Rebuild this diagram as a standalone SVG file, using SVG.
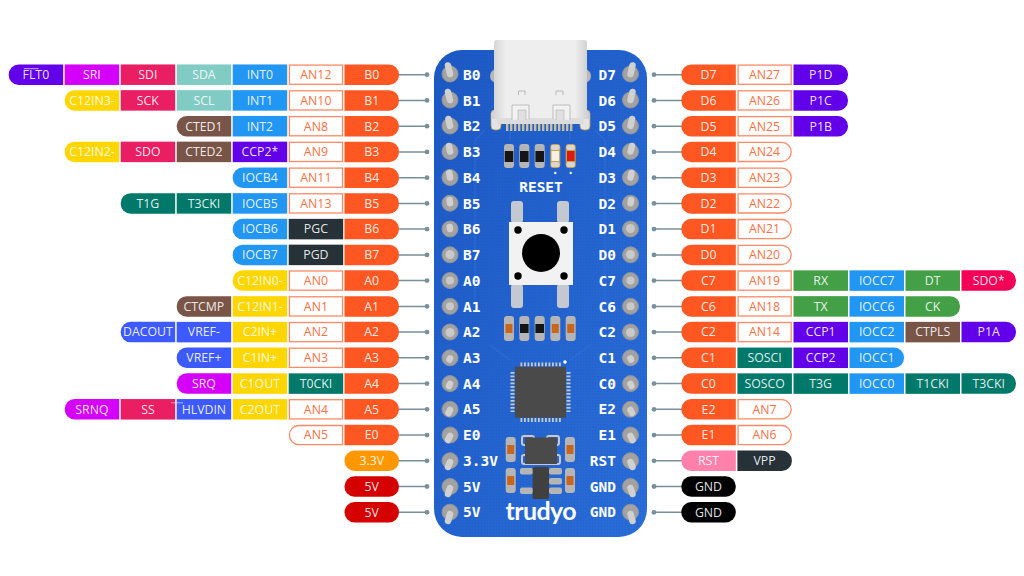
<svg xmlns="http://www.w3.org/2000/svg" width="1024" height="576" viewBox="0 0 1024 576">
<style>
text{font-family:"Open Sans","Noto Sans",sans-serif;font-size:12.3px;fill:#fff;fill-opacity:.9;text-anchor:middle}
.or{fill:#ff5722}.pk{fill:#e91e63}.dp{fill:#6200ea}.mg{fill:#d500f9}.tl{fill:#80cbc4}.bl{fill:#2196f3}.ye{fill:#ffd600}.br{fill:#795548}.dk{fill:#263238}.te{fill:#00796b}.in{fill:#3d5afe}.gr{fill:#43a047}.ho{fill:#f50057}.rs{fill:#ff80ab}.am{fill:#ff9800}.re{fill:#d50000}.bk{fill:#000}
.o{fill:#fff;stroke:#ff8a65;stroke-width:1.3}
text.a{fill:#ff7043;fill-opacity:1}
.w{stroke:#78909c;stroke-width:1.5;fill:none}
.d{fill:#78909c}
.ring{fill:#a2a2a2;stroke:#8a93a0;stroke-width:1}.inner{fill:#c9c9c9}.stem{stroke:#d0d0d0;stroke-width:6.5;stroke-linecap:round}
text.s{font-family:"DejaVu Sans Mono",monospace;font-weight:700;font-size:14.5px;fill:#fff;fill-opacity:1;text-anchor:start}
text.e{text-anchor:end}
.cap{fill:#b5b5b5}.rk{fill:#151515}.ro{fill:#c8661d}
</style>
<defs>
<linearGradient id="bg" x1="0" y1="0" x2="1" y2="1"><stop offset="0" stop-color="#1c58c4"/><stop offset="1" stop-color="#2a6dd8"/></linearGradient>
<linearGradient id="usb" x1="0" y1="0" x2="1" y2="0"><stop offset="0" stop-color="#cfcfcf"/><stop offset=".15" stop-color="#eeeeee"/><stop offset=".85" stop-color="#eeeeee"/><stop offset="1" stop-color="#cacaca"/></linearGradient>
<pattern id="dots" width="3" height="3" patternUnits="userSpaceOnUse"><circle cx="1.5" cy="1.5" r=".5" fill="#164aa8" fill-opacity=".35"/></pattern>
<rect id="sq" y="-10.25" width="54.5" height="20.5"/>
<path id="rl" d="M54.5-10.25V10.25H10A10 10 0 0 1 0 .25V-.25A10 10 0 0 1 10-10.25Z"/>
<path id="rr" d="M0-10.25V10.25H44.5A10 10 0 0 0 54.5 .25V-.25A10 10 0 0 0 44.5-10.25Z"/>
<rect id="pl" y="-10.25" width="54.5" height="20.5" rx="10"/>
<rect id="osq" x=".7" y="-9.6" width="53.1" height="19.2"/>
<path id="orl" d="M53.8-9.6V9.6H10A9.5 9.5 0 0 1 .7 0A9.5 9.5 0 0 1 10-9.6Z"/>
<path id="orr" d="M.7-9.6V9.6H44.5A9.5 9.5 0 0 0 53.8 0A9.5 9.5 0 0 0 44.5-9.6Z"/>
</defs>
<rect width="1024" height="576" fill="#fff"/>

<g id="connectors">
<path class="w" d="M399 74.7H427M399 100.4H427M399 126.2H427M399 151.9H427M399 177.7H427M399 203.4H427M399 229.1H427M399 254.9H427M399 280.6H427M399 306.4H427M399 332.1H427M399 357.8H427M399 383.6H427M399 409.3H427M399 435.1H427M399 460.8H427M399 486.5H427M399 512.3H427"/>
<path class="w" d="M654 74.7H682M654 100.4H682M654 126.2H682M654 151.9H682M654 177.7H682M654 203.4H682M654 229.1H682M654 254.9H682M654 280.6H682M654 306.4H682M654 332.1H682M654 357.8H682M654 383.6H682M654 409.3H682M654 435.1H682M654 460.8H682M654 486.5H682M654 512.3H682"/>
<g class="d">
<circle cx="427" cy="74.7" r="2.4"/><circle cx="427" cy="100.4" r="2.4"/><circle cx="427" cy="126.2" r="2.4"/><circle cx="427" cy="151.9" r="2.4"/><circle cx="427" cy="177.7" r="2.4"/><circle cx="427" cy="203.4" r="2.4"/><circle cx="427" cy="229.1" r="2.4"/><circle cx="427" cy="254.9" r="2.4"/><circle cx="427" cy="280.6" r="2.4"/><circle cx="427" cy="306.4" r="2.4"/><circle cx="427" cy="332.1" r="2.4"/><circle cx="427" cy="357.8" r="2.4"/><circle cx="427" cy="383.6" r="2.4"/><circle cx="427" cy="409.3" r="2.4"/><circle cx="427" cy="435.1" r="2.4"/><circle cx="427" cy="460.8" r="2.4"/><circle cx="427" cy="486.5" r="2.4"/><circle cx="427" cy="512.3" r="2.4"/>
<circle cx="654" cy="74.7" r="2.4"/><circle cx="654" cy="100.4" r="2.4"/><circle cx="654" cy="126.2" r="2.4"/><circle cx="654" cy="151.9" r="2.4"/><circle cx="654" cy="177.7" r="2.4"/><circle cx="654" cy="203.4" r="2.4"/><circle cx="654" cy="229.1" r="2.4"/><circle cx="654" cy="254.9" r="2.4"/><circle cx="654" cy="280.6" r="2.4"/><circle cx="654" cy="306.4" r="2.4"/><circle cx="654" cy="332.1" r="2.4"/><circle cx="654" cy="357.8" r="2.4"/><circle cx="654" cy="383.6" r="2.4"/><circle cx="654" cy="409.3" r="2.4"/><circle cx="654" cy="435.1" r="2.4"/><circle cx="654" cy="460.8" r="2.4"/><circle cx="654" cy="486.5" r="2.4"/><circle cx="654" cy="512.3" r="2.4"/>
</g>
</g>

<g id="board">
<rect x="434" y="50" width="213" height="487" rx="28" fill="url(#bg)"/>
<rect x="434" y="50" width="213" height="487" rx="28" fill="url(#dots)"/>
<g fill="none" stroke="#3a78de" stroke-width=".8" opacity=".7">
<path d="M485 130L475 140V300M595 130L605 140V300M490 345L510 360M590 345L570 360M510 130V140M570 130V140"/>
</g>
</g>

<g id="silkscreen">
<text class="s" x="463" y="79.8">B0</text><text class="s" x="463" y="105.5">B1</text><text class="s" x="463" y="131.3">B2</text><text class="s" x="463" y="157">B3</text><text class="s" x="463" y="182.8">B4</text><text class="s" x="463" y="208.5">B5</text><text class="s" x="463" y="234.2">B6</text><text class="s" x="463" y="260">B7</text><text class="s" x="463" y="285.7">A0</text><text class="s" x="463" y="311.5">A1</text><text class="s" x="463" y="337.2">A2</text><text class="s" x="463" y="362.9">A3</text><text class="s" x="463" y="388.7">A4</text><text class="s" x="463" y="414.4">A5</text><text class="s" x="463" y="440.2">E0</text><text class="s" x="463" y="465.9">3.3V</text><text class="s" x="463" y="491.6">5V</text><text class="s" x="463" y="517.4">5V</text>
<text class="s e" x="616" y="79.8">D7</text><text class="s e" x="616" y="105.5">D6</text><text class="s e" x="616" y="131.3">D5</text><text class="s e" x="616" y="157">D4</text><text class="s e" x="616" y="182.8">D3</text><text class="s e" x="616" y="208.5">D2</text><text class="s e" x="616" y="234.2">D1</text><text class="s e" x="616" y="260">D0</text><text class="s e" x="616" y="285.7">C7</text><text class="s e" x="616" y="311.5">C6</text><text class="s e" x="616" y="337.2">C2</text><text class="s e" x="616" y="362.9">C1</text><text class="s e" x="616" y="388.7">C0</text><text class="s e" x="616" y="414.4">E2</text><text class="s e" x="616" y="440.2">E1</text><text class="s e" x="616" y="465.9">RST</text><text class="s e" x="616" y="491.6">GND</text><text class="s e" x="616" y="517.4">GND</text>
<text class="s" x="541" y="191.5" style="text-anchor:middle">RESET</text>
<text x="541" y="520" style="font-family:Lato,sans-serif;font-weight:700;font-size:25px;fill-opacity:1" textLength="71" lengthAdjust="spacing">trudyo</text>
</g>

<g id="pins-left">
<g id="pl0"><circle class="ring" cx="450" cy="74" r="8"/><line class="stem" x1="450" y1="74" x2="448" y2="65.5"/></g>
<g id="pl1"><circle class="ring" cx="450" cy="100" r="8"/><line class="stem" x1="450" y1="100" x2="448" y2="92"/></g>
<g id="pl2"><circle class="ring" cx="450" cy="126" r="8"/><line class="stem" x1="450" y1="126" x2="448.5" y2="119"/></g>
<g id="pl3"><circle class="ring" cx="450" cy="151.5" r="8"/><line class="stem" x1="450" y1="151.5" x2="449" y2="146"/></g>
<g id="pl4"><circle class="ring" cx="450" cy="177.5" r="8"/><line class="stem" x1="450" y1="177.5" x2="449.3" y2="173"/></g>
<g id="pl5"><circle class="ring" cx="450" cy="203.2" r="8"/><line class="stem" x1="450" y1="203.2" x2="449.6" y2="200"/></g>
<g id="pl6"><circle class="ring" cx="450" cy="229" r="8"/><line class="stem" x1="450" y1="229" x2="449.8" y2="227"/></g>
<g id="pl7"><circle class="ring" cx="450" cy="254.8" r="8"/><circle class="inner" cx="450" cy="254.5" r="4.5"/></g>
<g id="pl8"><circle class="ring" cx="450" cy="280.5" r="8"/><circle class="inner" cx="450" cy="280.5" r="4"/></g>
<g id="pl9"><circle class="ring" cx="450" cy="306.3" r="8"/><circle class="inner" cx="450" cy="306.3" r="4"/></g>
<g id="pl10"><circle class="ring" cx="450" cy="332" r="8"/><circle class="inner" cx="450" cy="332.5" r="4.5"/></g>
<g id="pl11"><circle class="ring" cx="450" cy="357.8" r="8"/><line class="stem" x1="450" y1="358.5" x2="449.5" y2="359.5"/></g>
<g id="pl12"><circle class="ring" cx="450" cy="383.6" r="8"/><line class="stem" x1="450" y1="384" x2="449" y2="386"/></g>
<g id="pl13"><circle class="ring" cx="450" cy="409.3" r="8"/><line class="stem" x1="450" y1="410" x2="448.5" y2="413"/></g>
<g id="pl14"><circle class="ring" cx="450" cy="435" r="8"/><line class="stem" x1="450" y1="436" x2="448" y2="440"/></g>
<g id="pl15"><circle class="ring" cx="450" cy="460.7" r="8"/><line class="stem" x1="450" y1="462" x2="448" y2="467"/></g>
<g id="pl16"><circle class="ring" cx="450" cy="486.5" r="8"/><line class="stem" x1="450" y1="488" x2="448" y2="494"/></g>
<g id="pl17"><circle class="ring" cx="450" cy="512.2" r="8"/><line class="stem" x1="450" y1="514" x2="448" y2="521"/></g>
</g>
<g id="pins-right">
<g id="pr0"><circle class="ring" cx="630.5" cy="74" r="8"/><line class="stem" x1="630.5" y1="74" x2="632.5" y2="65.5"/></g>
<g id="pr1"><circle class="ring" cx="630.5" cy="100" r="8"/><line class="stem" x1="630.5" y1="100" x2="632.5" y2="92"/></g>
<g id="pr2"><circle class="ring" cx="630.5" cy="126" r="8"/><line class="stem" x1="630.5" y1="126" x2="632" y2="119"/></g>
<g id="pr3"><circle class="ring" cx="630.5" cy="151.5" r="8"/><line class="stem" x1="630.5" y1="151.5" x2="632" y2="146"/></g>
<g id="pr4"><circle class="ring" cx="630.5" cy="177.5" r="8"/><line class="stem" x1="630.5" y1="177.5" x2="631.5" y2="173"/></g>
<g id="pr5"><circle class="ring" cx="630.5" cy="203.2" r="8"/><line class="stem" x1="630.5" y1="203.2" x2="631" y2="200"/></g>
<g id="pr6"><circle class="ring" cx="630.5" cy="229" r="8"/><circle class="inner" cx="630.5" cy="228.5" r="4.5"/></g>
<g id="pr7"><circle class="ring" cx="630.5" cy="254.8" r="8"/><circle class="inner" cx="630.5" cy="254.5" r="4.5"/></g>
<g id="pr8"><circle class="ring" cx="630.5" cy="280.5" r="8"/><circle class="inner" cx="630.5" cy="280.5" r="4"/></g>
<g id="pr9"><circle class="ring" cx="630.5" cy="306.3" r="8"/><circle class="inner" cx="630.5" cy="306.3" r="4"/></g>
<g id="pr10"><circle class="ring" cx="630.5" cy="332" r="8"/><circle class="inner" cx="630.5" cy="332.5" r="4.5"/></g>
<g id="pr11"><circle class="ring" cx="630.5" cy="357.8" r="8"/><line class="stem" x1="630.5" y1="358.5" x2="631" y2="359.5"/></g>
<g id="pr12"><circle class="ring" cx="630.5" cy="383.6" r="8"/><line class="stem" x1="630.5" y1="384" x2="631.5" y2="386"/></g>
<g id="pr13"><circle class="ring" cx="630.5" cy="409.3" r="8"/><line class="stem" x1="630.5" y1="410" x2="632" y2="413"/></g>
<g id="pr14"><circle class="ring" cx="630.5" cy="435" r="8"/><line class="stem" x1="630.5" y1="436" x2="632.5" y2="440"/></g>
<g id="pr15"><circle class="ring" cx="630.5" cy="460.7" r="8"/><line class="stem" x1="630.5" y1="462" x2="632.5" y2="467"/></g>
<g id="pr16"><circle class="ring" cx="630.5" cy="486.5" r="8"/><line class="stem" x1="630.5" y1="488" x2="632.5" y2="494"/></g>
<g id="pr17"><circle class="ring" cx="630.5" cy="512.2" r="8"/><line class="stem" x1="630.5" y1="514" x2="632.5" y2="521"/></g>
</g>

<g id="usb-c">
<circle cx="497" cy="76" r="7" fill="#b8b8b8"/><circle cx="584" cy="76" r="7" fill="#b8b8b8"/>
<rect x="491" y="110" width="10" height="20" rx="4" fill="#e4e4e4" stroke="#b59a50" stroke-width=".8"/><rect x="580" y="110" width="10" height="20" rx="4" fill="#e4e4e4" stroke="#b59a50" stroke-width=".8"/>
<g fill="#c9c0a0"><rect x="506" y="122" width="2.4" height="9"/><rect x="510" y="122" width="2.4" height="9"/><rect x="514" y="122" width="2.4" height="9"/><rect x="518" y="122" width="2.4" height="9"/><rect x="522" y="122" width="2.4" height="9"/><rect x="526" y="122" width="2.4" height="9"/><rect x="530" y="122" width="2.4" height="9"/><rect x="534" y="122" width="2.4" height="9"/><rect x="538" y="122" width="2.4" height="9"/><rect x="542" y="122" width="2.4" height="9"/><rect x="546" y="122" width="2.4" height="9"/><rect x="550" y="122" width="2.4" height="9"/><rect x="554" y="122" width="2.4" height="9"/><rect x="558" y="122" width="2.4" height="9"/><rect x="562" y="122" width="2.4" height="9"/><rect x="566" y="122" width="2.4" height="9"/><rect x="570" y="122" width="2.4" height="9"/></g>
<path d="M497 40H584Q587 40 587 43V110L590 113V119H491V113L494 110V43Q494 40 497 40Z" fill="url(#usb)"/>
<rect x="497" y="118" width="87" height="6" fill="#dcdcdc"/>
<path d="M512 120V105H529V119M553 119V105H570V120" fill="#f2f2f2" stroke="#b0b0b0" stroke-width=".8"/>
<path d="M518 120V110H526V120M556 120V110H564V120" fill="#e0e0e0" stroke="#b0b0b0" stroke-width=".6"/>
<path d="M518.5 95V91H525V95M556 95V91H563V95" fill="none" stroke="#aaa" stroke-width=".8"/>
</g>

<g id="resistors-top">
<rect x="504" y="144" width="10" height="24" rx="3" class="cap"/><rect x="504.700" y="151" width="8.600" height="11" class="rk"/>
<rect x="519.300" y="144" width="10" height="24" rx="3" class="cap"/><rect x="520" y="151" width="8.600" height="11" class="rk"/>
<rect x="534.700" y="144" width="10" height="24" rx="3" class="cap"/><rect x="535.400" y="151" width="8.600" height="11" class="rk"/>
<rect x="550.300" y="144" width="10" height="24" rx="3" fill="#c9a24a"/><rect x="551" y="145" width="8.600" height="5" rx="2" fill="#d8d8d8"/><rect x="551" y="162" width="8.600" height="5" rx="2" fill="#d8d8d8"/><rect x="551.500" y="151" width="7.600" height="10" fill="#f4f0e6"/>
<rect x="565.700" y="144" width="10" height="24" rx="3" fill="#c9a24a"/><rect x="566.400" y="145" width="8.600" height="5" rx="2" fill="#d8d8d8"/><rect x="566.400" y="162" width="8.600" height="5" rx="2" fill="#d8d8d8"/><rect x="567" y="151" width="7.600" height="10" fill="#dd1a10"/>
<circle cx="555.300" cy="173" r="1.200" fill="#fff"/><circle cx="570.700" cy="173" r="1.200" fill="#fff"/>
</g>

<g id="reset-button">
<rect x="511" y="201" width="12" height="22" rx="3" fill="#c4c8d0"/><rect x="557" y="201" width="12" height="22" rx="3" fill="#c4c8d0"/>
<rect x="511" y="284" width="12" height="24" rx="3" fill="#c4c8d0"/><rect x="557" y="284" width="12" height="24" rx="3" fill="#c4c8d0"/>
<rect x="509" y="222" width="64" height="63" fill="#f2f2f2"/>
<circle cx="541" cy="253" r="19"/>
<circle cx="518" cy="230" r="3.700"/><circle cx="564" cy="230" r="3.700"/><circle cx="518" cy="276" r="3.700"/><circle cx="564" cy="276" r="3.700"/>
</g>

<g id="resistors-mid">
<rect x="504" y="316" width="10" height="25" rx="3" class="cap"/><rect x="505.500" y="324" width="7" height="9" class="ro"/>
<rect x="519.300" y="316" width="10" height="25" rx="3" class="cap"/><rect x="520" y="324" width="8.600" height="9" class="rk"/>
<rect x="534.700" y="316" width="10" height="25" rx="3" class="cap"/><rect x="535.400" y="324" width="8.600" height="9" class="rk"/>
<rect x="550.300" y="316" width="10" height="25" rx="3" class="cap"/><rect x="551.800" y="324" width="7" height="9" class="ro"/>
<rect x="565.700" y="316" width="10" height="25" rx="3" class="cap"/><rect x="567.200" y="324" width="7" height="9" class="ro"/>
</g>

<g id="mcu">
<path stroke="#c8c8c8" stroke-dasharray="1.800 1.700" fill="none" d="M520.500 364.500H561M520.500 420H561M512.500 372V412M568.500 372V412" style="stroke-width:4"/>
<rect x="515" y="366.700" width="51" height="51" fill="#4a4a4a"/>
<circle cx="565" cy="362" r="1.800" fill="#fff"/>
</g>

<g id="regulator">
<rect x="522" y="436" width="12" height="9" rx="2" fill="none" stroke="#c8c8c8" stroke-width="2"/><rect x="547" y="436" width="12" height="9" rx="2" fill="none" stroke="#c8c8c8" stroke-width="2"/>
<rect x="522" y="455" width="38" height="9" rx="2" fill="none" stroke="#c8c8c8" stroke-width="2"/>
<rect x="525" y="437.500" width="32" height="26.500" fill="#4a4a4a"/>
<rect x="505.700" y="437" width="10" height="25" rx="3" class="cap"/><rect x="507.200" y="445" width="7" height="9" class="ro"/>
<rect x="565" y="437" width="10" height="25" rx="3" class="cap"/><rect x="566.500" y="445" width="7" height="9" class="ro"/>
<rect x="505.700" y="468" width="10" height="25" rx="3" class="cap"/><rect x="507.200" y="476" width="7" height="9" class="ro"/>
<rect x="565" y="468" width="10" height="25" rx="3" class="cap"/><rect x="566.500" y="476" width="7" height="9" class="ro"/>
<rect x="520" y="468" width="13" height="6.500" rx="2" class="cap"/><rect x="520" y="487.500" width="13" height="6.500" rx="2" class="cap"/>
<rect x="549" y="468" width="13" height="6.500" rx="2" class="cap"/><rect x="549" y="478" width="13" height="6.500" rx="2" class="cap"/><rect x="549" y="487.500" width="13" height="6.500" rx="2" class="cap"/>
<rect x="532.700" y="467" width="16.300" height="32" rx="1.500" fill="#404040"/>
</g>

<g id="left-labels">
<g id="B0" transform="translate(344.500 74.700)"><use href="#rr" class="or"/><text x="27.200" y="4.300">B0</text></g>
<g id="AN12" transform="translate(288.700 74.700)"><use href="#osq" class="o"/><text class="a" x="27.200" y="4.300">AN12</text></g>
<g id="INT0" transform="translate(232.700 74.700)"><use href="#sq" class="bl"/><text x="27.200" y="4.300">INT0</text></g>
<g id="SDA" transform="translate(176.700 74.700)"><use href="#sq" class="tl"/><text x="27.200" y="4.300">SDA</text></g>
<g id="SDI" transform="translate(120.700 74.700)"><use href="#sq" class="pk"/><text x="27.200" y="4.300">SDI</text></g>
<g id="SRI" transform="translate(64.700 74.700)"><use href="#sq" class="mg"/><text x="27.200" y="4.300">SRI</text></g>
<g id="FLT0" transform="translate(8.700 74.700)"><use href="#rl" class="dp"/><text x="27.200" y="4.300">FLT0</text><path d="M15.200-6H30" stroke="#e6dcfb" stroke-width=".8"/></g>

<g id="B1" transform="translate(344.500 100.400)"><use href="#rr" class="or"/><text x="27.200" y="4.300">B1</text></g>
<g id="AN10" transform="translate(288.700 100.400)"><use href="#osq" class="o"/><text class="a" x="27.200" y="4.300">AN10</text></g>
<g id="INT1" transform="translate(232.700 100.400)"><use href="#sq" class="bl"/><text x="27.200" y="4.300">INT1</text></g>
<g id="SCL" transform="translate(176.700 100.400)"><use href="#sq" class="tl"/><text x="27.200" y="4.300">SCL</text></g>
<g id="SCK" transform="translate(120.700 100.400)"><use href="#sq" class="pk"/><text x="27.200" y="4.300">SCK</text></g>
<g id="C12IN3" transform="translate(64.700 100.400)"><use href="#rl" class="ye"/><text x="27.200" y="4.300">C12IN3-</text></g>

<g id="B2" transform="translate(344.500 126.200)"><use href="#rr" class="or"/><text x="27.200" y="4.300">B2</text></g>
<g id="AN8" transform="translate(288.700 126.200)"><use href="#osq" class="o"/><text class="a" x="27.200" y="4.300">AN8</text></g>
<g id="INT2" transform="translate(232.700 126.200)"><use href="#sq" class="bl"/><text x="27.200" y="4.300">INT2</text></g>
<g id="CTED1" transform="translate(176.700 126.200)"><use href="#rl" class="br"/><text x="27.200" y="4.300">CTED1</text></g>

<g id="B3" transform="translate(344.500 151.900)"><use href="#rr" class="or"/><text x="27.200" y="4.300">B3</text></g>
<g id="AN9" transform="translate(288.700 151.900)"><use href="#osq" class="o"/><text class="a" x="27.200" y="4.300">AN9</text></g>
<g id="CCP2s" transform="translate(232.700 151.900)"><use href="#sq" class="dp"/><text x="27.200" y="4.300">CCP2*</text></g>
<g id="CTED2" transform="translate(176.700 151.900)"><use href="#sq" class="br"/><text x="27.200" y="4.300">CTED2</text></g>
<g id="SDO" transform="translate(120.700 151.900)"><use href="#sq" class="pk"/><text x="27.200" y="4.300">SDO</text></g>
<g id="C12IN2" transform="translate(64.700 151.900)"><use href="#rl" class="ye"/><text x="27.200" y="4.300">C12IN2-</text></g>

<g id="B4" transform="translate(344.500 177.700)"><use href="#rr" class="or"/><text x="27.200" y="4.300">B4</text></g>
<g id="AN11" transform="translate(288.700 177.700)"><use href="#osq" class="o"/><text class="a" x="27.200" y="4.300">AN11</text></g>
<g id="IOCB4" transform="translate(232.700 177.700)"><use href="#rl" class="bl"/><text x="27.200" y="4.300">IOCB4</text></g>

<g id="B5" transform="translate(344.500 203.400)"><use href="#rr" class="or"/><text x="27.200" y="4.300">B5</text></g>
<g id="AN13" transform="translate(288.700 203.400)"><use href="#osq" class="o"/><text class="a" x="27.200" y="4.300">AN13</text></g>
<g id="IOCB5" transform="translate(232.700 203.400)"><use href="#sq" class="bl"/><text x="27.200" y="4.300">IOCB5</text></g>
<g id="T3CKI-L" transform="translate(176.700 203.400)"><use href="#sq" class="te"/><text x="27.200" y="4.300">T3CKI</text></g>
<g id="T1G" transform="translate(120.700 203.400)"><use href="#rl" class="te"/><text x="27.200" y="4.300">T1G</text></g>

<g id="B6" transform="translate(344.500 229.100)"><use href="#rr" class="or"/><text x="27.200" y="4.300">B6</text></g>
<g id="PGC" transform="translate(288.700 229.100)"><use href="#sq" class="dk"/><text x="27.200" y="4.300">PGC</text></g>
<g id="IOCB6" transform="translate(232.700 229.100)"><use href="#rl" class="bl"/><text x="27.200" y="4.300">IOCB6</text></g>

<g id="B7" transform="translate(344.500 254.900)"><use href="#rr" class="or"/><text x="27.200" y="4.300">B7</text></g>
<g id="PGD" transform="translate(288.700 254.900)"><use href="#sq" class="dk"/><text x="27.200" y="4.300">PGD</text></g>
<g id="IOCB7" transform="translate(232.700 254.900)"><use href="#rl" class="bl"/><text x="27.200" y="4.300">IOCB7</text></g>

<g id="A0" transform="translate(344.500 280.600)"><use href="#rr" class="or"/><text x="27.200" y="4.300">A0</text></g>
<g id="AN0" transform="translate(288.700 280.600)"><use href="#osq" class="o"/><text class="a" x="27.200" y="4.300">AN0</text></g>
<g id="C12IN0" transform="translate(232.700 280.600)"><use href="#rl" class="ye"/><text x="27.200" y="4.300">C12IN0-</text></g>

<g id="A1" transform="translate(344.500 306.400)"><use href="#rr" class="or"/><text x="27.200" y="4.300">A1</text></g>
<g id="AN1" transform="translate(288.700 306.400)"><use href="#osq" class="o"/><text class="a" x="27.200" y="4.300">AN1</text></g>
<g id="C12IN1" transform="translate(232.700 306.400)"><use href="#sq" class="ye"/><text x="27.200" y="4.300">C12IN1-</text></g>
<g id="CTCMP" transform="translate(176.700 306.400)"><use href="#rl" class="br"/><text x="27.200" y="4.300">CTCMP</text></g>

<g id="A2" transform="translate(344.500 332.100)"><use href="#rr" class="or"/><text x="27.200" y="4.300">A2</text></g>
<g id="AN2" transform="translate(288.700 332.100)"><use href="#osq" class="o"/><text class="a" x="27.200" y="4.300">AN2</text></g>
<g id="C2INp" transform="translate(232.700 332.100)"><use href="#sq" class="ye"/><text x="27.200" y="4.300">C2IN+</text></g>
<g id="VREFm" transform="translate(176.700 332.100)"><use href="#sq" class="in"/><text x="27.200" y="4.300">VREF-</text></g>
<g id="DACOUT" transform="translate(120.700 332.100)"><use href="#rl" class="in"/><text x="27.200" y="4.300">DACOUT</text></g>

<g id="A3" transform="translate(344.500 357.800)"><use href="#rr" class="or"/><text x="27.200" y="4.300">A3</text></g>
<g id="AN3" transform="translate(288.700 357.800)"><use href="#osq" class="o"/><text class="a" x="27.200" y="4.300">AN3</text></g>
<g id="C1INp" transform="translate(232.700 357.800)"><use href="#sq" class="ye"/><text x="27.200" y="4.300">C1IN+</text></g>
<g id="VREFp" transform="translate(176.700 357.800)"><use href="#rl" class="in"/><text x="27.200" y="4.300">VREF+</text></g>

<g id="A4" transform="translate(344.500 383.600)"><use href="#rr" class="or"/><text x="27.200" y="4.300">A4</text></g>
<g id="T0CKI" transform="translate(288.700 383.600)"><use href="#sq" class="te"/><text x="27.200" y="4.300">T0CKI</text></g>
<g id="C1OUT" transform="translate(232.700 383.600)"><use href="#sq" class="ye"/><text x="27.200" y="4.300">C1OUT</text></g>
<g id="SRQ" transform="translate(176.700 383.600)"><use href="#rl" class="mg"/><text x="27.200" y="4.300">SRQ</text></g>

<g id="A5" transform="translate(344.500 409.300)"><use href="#rr" class="or"/><text x="27.200" y="4.300">A5</text></g>
<g id="AN4" transform="translate(288.700 409.300)"><use href="#osq" class="o"/><text class="a" x="27.200" y="4.300">AN4</text></g>
<g id="C2OUT" transform="translate(232.700 409.300)"><use href="#sq" class="ye"/><text x="27.200" y="4.300">C2OUT</text></g>
<g id="SS" transform="translate(120.700 409.300)"><use href="#sq" class="pk"/><text x="27.200" y="4.300">SS</text></g>
<g id="HLVDIN" transform="translate(176.700 409.300)"><use href="#sq" class="in"/><text x="27.200" y="4.300">HLVDIN</text></g>
<g id="SRNQ" transform="translate(64.700 409.300)"><use href="#rl" class="mg"/><text x="27.200" y="4.300">SRNQ</text></g>
<path d="M171 402.800H183" stroke="#d8dcf8" stroke-width=".7"/>

<g id="E0" transform="translate(344.500 435.100)"><use href="#rr" class="or"/><text x="27.200" y="4.300">E0</text></g>
<g id="AN5" transform="translate(288.700 435.100)"><use href="#orl" class="o"/><text class="a" x="27.200" y="4.300">AN5</text></g>

<g id="V33" transform="translate(344.500 460.800)"><use href="#pl" class="am"/><text x="27.200" y="4.300">3.3V</text></g>
<g id="V5a" transform="translate(344.500 486.500)"><use href="#pl" class="re"/><text x="27.200" y="4.300">5V</text></g>
<g id="V5b" transform="translate(344.500 512.300)"><use href="#pl" class="re"/><text x="27.200" y="4.300">5V</text></g>
</g>

<g id="right-labels">
<g id="D7" transform="translate(681.300 74.700)"><use href="#rl" class="or"/><text x="27.200" y="4.300">D7</text></g>
<g id="AN27" transform="translate(737.400 74.700)"><use href="#osq" class="o"/><text class="a" x="27.200" y="4.300">AN27</text></g>
<g id="P1D" transform="translate(793.500 74.700)"><use href="#rr" class="dp"/><text x="27.200" y="4.300">P1D</text></g>

<g id="D6" transform="translate(681.300 100.400)"><use href="#rl" class="or"/><text x="27.200" y="4.300">D6</text></g>
<g id="AN26" transform="translate(737.400 100.400)"><use href="#osq" class="o"/><text class="a" x="27.200" y="4.300">AN26</text></g>
<g id="P1C" transform="translate(793.500 100.400)"><use href="#rr" class="dp"/><text x="27.200" y="4.300">P1C</text></g>

<g id="D5" transform="translate(681.300 126.200)"><use href="#rl" class="or"/><text x="27.200" y="4.300">D5</text></g>
<g id="AN25" transform="translate(737.400 126.200)"><use href="#osq" class="o"/><text class="a" x="27.200" y="4.300">AN25</text></g>
<g id="P1B" transform="translate(793.500 126.200)"><use href="#rr" class="dp"/><text x="27.200" y="4.300">P1B</text></g>

<g id="D4" transform="translate(681.300 151.900)"><use href="#rl" class="or"/><text x="27.200" y="4.300">D4</text></g>
<g id="AN24" transform="translate(737.400 151.900)"><use href="#orr" class="o"/><text class="a" x="27.200" y="4.300">AN24</text></g>
<g id="D3" transform="translate(681.300 177.700)"><use href="#rl" class="or"/><text x="27.200" y="4.300">D3</text></g>
<g id="AN23" transform="translate(737.400 177.700)"><use href="#orr" class="o"/><text class="a" x="27.200" y="4.300">AN23</text></g>
<g id="D2" transform="translate(681.300 203.400)"><use href="#rl" class="or"/><text x="27.200" y="4.300">D2</text></g>
<g id="AN22" transform="translate(737.400 203.400)"><use href="#orr" class="o"/><text class="a" x="27.200" y="4.300">AN22</text></g>
<g id="D1" transform="translate(681.300 229.100)"><use href="#rl" class="or"/><text x="27.200" y="4.300">D1</text></g>
<g id="AN21" transform="translate(737.400 229.100)"><use href="#orr" class="o"/><text class="a" x="27.200" y="4.300">AN21</text></g>
<g id="D0" transform="translate(681.300 254.900)"><use href="#rl" class="or"/><text x="27.200" y="4.300">D0</text></g>
<g id="AN20" transform="translate(737.400 254.900)"><use href="#orr" class="o"/><text class="a" x="27.200" y="4.300">AN20</text></g>

<g id="C7" transform="translate(681.300 280.600)"><use href="#rl" class="or"/><text x="27.200" y="4.300">C7</text></g>
<g id="AN19" transform="translate(737.400 280.600)"><use href="#osq" class="o"/><text class="a" x="27.200" y="4.300">AN19</text></g>
<g id="RX" transform="translate(793.500 280.600)"><use href="#sq" class="gr"/><text x="27.200" y="4.300">RX</text></g>
<g id="IOCC7" transform="translate(849.500 280.600)"><use href="#sq" class="bl"/><text x="27.200" y="4.300">IOCC7</text></g>
<g id="DT" transform="translate(905.500 280.600)"><use href="#sq" class="gr"/><text x="27.200" y="4.300">DT</text></g>
<g id="SDOs" transform="translate(961.500 280.600)"><use href="#rr" class="ho"/><text x="27.200" y="4.300">SDO*</text></g>

<g id="C6" transform="translate(681.300 306.400)"><use href="#rl" class="or"/><text x="27.200" y="4.300">C6</text></g>
<g id="AN18" transform="translate(737.400 306.400)"><use href="#osq" class="o"/><text class="a" x="27.200" y="4.300">AN18</text></g>
<g id="TX" transform="translate(793.500 306.400)"><use href="#sq" class="gr"/><text x="27.200" y="4.300">TX</text></g>
<g id="IOCC6" transform="translate(849.500 306.400)"><use href="#sq" class="bl"/><text x="27.200" y="4.300">IOCC6</text></g>
<g id="CK" transform="translate(905.500 306.400)"><use href="#rr" class="gr"/><text x="27.200" y="4.300">CK</text></g>

<g id="C2" transform="translate(681.300 332.100)"><use href="#rl" class="or"/><text x="27.200" y="4.300">C2</text></g>
<g id="AN14" transform="translate(737.400 332.100)"><use href="#osq" class="o"/><text class="a" x="27.200" y="4.300">AN14</text></g>
<g id="CCP1" transform="translate(793.500 332.100)"><use href="#sq" class="dp"/><text x="27.200" y="4.300">CCP1</text></g>
<g id="IOCC2" transform="translate(849.500 332.100)"><use href="#sq" class="bl"/><text x="27.200" y="4.300">IOCC2</text></g>
<g id="CTPLS" transform="translate(905.500 332.100)"><use href="#sq" class="br"/><text x="27.200" y="4.300">CTPLS</text></g>
<g id="P1A" transform="translate(961.500 332.100)"><use href="#rr" class="dp"/><text x="27.200" y="4.300">P1A</text></g>

<g id="C1" transform="translate(681.300 357.800)"><use href="#rl" class="or"/><text x="27.200" y="4.300">C1</text></g>
<g id="SOSCI" transform="translate(737.400 357.800)"><use href="#sq" class="te"/><text x="27.200" y="4.300">SOSCI</text></g>
<g id="CCP2" transform="translate(793.500 357.800)"><use href="#sq" class="dp"/><text x="27.200" y="4.300">CCP2</text></g>
<g id="IOCC1" transform="translate(849.500 357.800)"><use href="#rr" class="bl"/><text x="27.200" y="4.300">IOCC1</text></g>

<g id="C0" transform="translate(681.300 383.600)"><use href="#rl" class="or"/><text x="27.200" y="4.300">C0</text></g>
<g id="SOSCO" transform="translate(737.400 383.600)"><use href="#sq" class="te"/><text x="27.200" y="4.300">SOSCO</text></g>
<g id="T3G" transform="translate(793.500 383.600)"><use href="#sq" class="te"/><text x="27.200" y="4.300">T3G</text></g>
<g id="IOCC0" transform="translate(849.500 383.600)"><use href="#sq" class="bl"/><text x="27.200" y="4.300">IOCC0</text></g>
<g id="T1CKI" transform="translate(905.500 383.600)"><use href="#sq" class="te"/><text x="27.200" y="4.300">T1CKI</text></g>
<g id="T3CKI-R" transform="translate(961.500 383.600)"><use href="#rr" class="te"/><text x="27.200" y="4.300">T3CKI</text></g>

<g id="E2" transform="translate(681.300 409.300)"><use href="#rl" class="or"/><text x="27.200" y="4.300">E2</text></g>
<g id="AN7" transform="translate(737.400 409.300)"><use href="#orr" class="o"/><text class="a" x="27.200" y="4.300">AN7</text></g>
<g id="E1" transform="translate(681.300 435.100)"><use href="#rl" class="or"/><text x="27.200" y="4.300">E1</text></g>
<g id="AN6" transform="translate(737.400 435.100)"><use href="#orr" class="o"/><text class="a" x="27.200" y="4.300">AN6</text></g>

<g id="RST" transform="translate(681.300 460.800)"><use href="#rl" class="rs"/><text x="27.200" y="4.300">RST</text></g>
<g id="VPP" transform="translate(737.400 460.800)"><use href="#rr" class="dk"/><text x="27.200" y="4.300">VPP</text></g>
<g id="GNDa" transform="translate(681.300 486.500)"><use href="#pl" class="bk"/><text x="27.200" y="4.300">GND</text></g>
<g id="GNDb" transform="translate(681.300 512.300)"><use href="#pl" class="bk"/><text x="27.200" y="4.300">GND</text></g>
</g>
</svg>
